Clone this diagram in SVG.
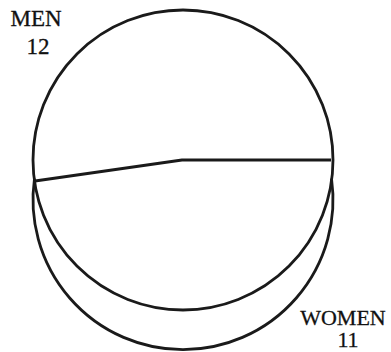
<svg xmlns="http://www.w3.org/2000/svg" width="391" height="352" viewBox="0 0 391 352">
<style>
.c{fill:none;stroke:#1a1a1a;stroke-width:2.8;stroke-linejoin:round}
.t{font-family:"Liberation Serif",serif;font-size:23px;fill:#111;text-anchor:middle;stroke:#111;stroke-width:0.3}
.s{font-size:22px}
</style>
<rect width="391" height="352" fill="#fff"/>
<g id="men">
<circle class="c" cx="183" cy="160" r="150"/>
<text class="t"><tspan x="36" y="26">MEN</tspan><tspan x="38" y="54">12</tspan></text>
</g>
<g id="women">
<path class="c" d="M34.5,178.5 A150,150 0 1 0 331.5,178.5"/>
<text class="t s"><tspan x="343" y="325">WOMEN</tspan><tspan x="348" y="347">11</tspan></text>
</g>
<g id="connectors">
<polyline class="c" points="35,181 182,160 331,160"/>
</g>
</svg>
